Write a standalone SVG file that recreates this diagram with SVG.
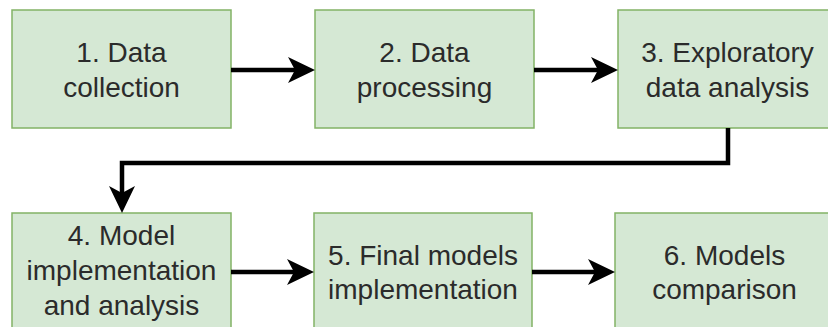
<svg xmlns="http://www.w3.org/2000/svg" width="828" height="327" viewBox="0 0 828 327">
<style>
.box{fill:#d5e8d4;stroke:#82b366;stroke-width:1.5}
.t{font-family:"Liberation Sans",Arial,sans-serif;font-size:28px;fill:#2b2b2b;text-anchor:middle}
.c{fill:none;stroke:#000;stroke-width:4.5}
</style>
<defs>
<marker id="ah" viewBox="0 0 27 26" refX="7" refY="13" markerWidth="27" markerHeight="26" markerUnits="userSpaceOnUse" orient="auto">
<path d="M0,0 L27,13 L0,26 L7,13 Z" fill="#000"/>
</marker>
</defs>
<rect width="828" height="327" fill="#fff"/>
<g id="n1"><rect class="box" x="12" y="10" width="219" height="118"/><text class="t" x="121.5" y="61.7">1. Data</text><text class="t" x="121.5" y="96.7">collection</text></g>
<g id="n2"><rect class="box" x="315" y="10" width="219" height="118"/><text class="t" x="424.5" y="61.7">2. Data</text><text class="t" x="424.5" y="96.7">processing</text></g>
<g id="n3"><rect class="box" x="618" y="10" width="219" height="118"/><text class="t" x="727.5" y="61.7">3. Exploratory</text><text class="t" x="727.5" y="96.7">data analysis</text></g>
<g id="n4"><rect class="box" x="12" y="213" width="219" height="130"/><text class="t" x="121.5" y="245">4. Model</text><text class="t" x="121.5" y="280">implementation</text><text class="t" x="121.5" y="315">and analysis</text></g>
<g id="n5"><rect class="box" x="314" y="213" width="218" height="130"/><text class="t" x="423" y="265">5. Final models</text><text class="t" x="423" y="299">implementation</text></g>
<g id="n6"><rect class="box" x="615" y="213" width="219" height="130"/><text class="t" x="724.5" y="265">6. Models</text><text class="t" x="724.5" y="299">comparison</text></g>
<g id="connectors">
<path class="c" d="M231,70 H295" marker-end="url(#ah)"/>
<path class="c" d="M534,70 H598" marker-end="url(#ah)"/>
<path class="c" d="M728,128 V163 H122 V193" marker-end="url(#ah)"/>
<path class="c" d="M231,272 H294" marker-end="url(#ah)"/>
<path class="c" d="M532,272 H595" marker-end="url(#ah)"/>
</g>
</svg>
